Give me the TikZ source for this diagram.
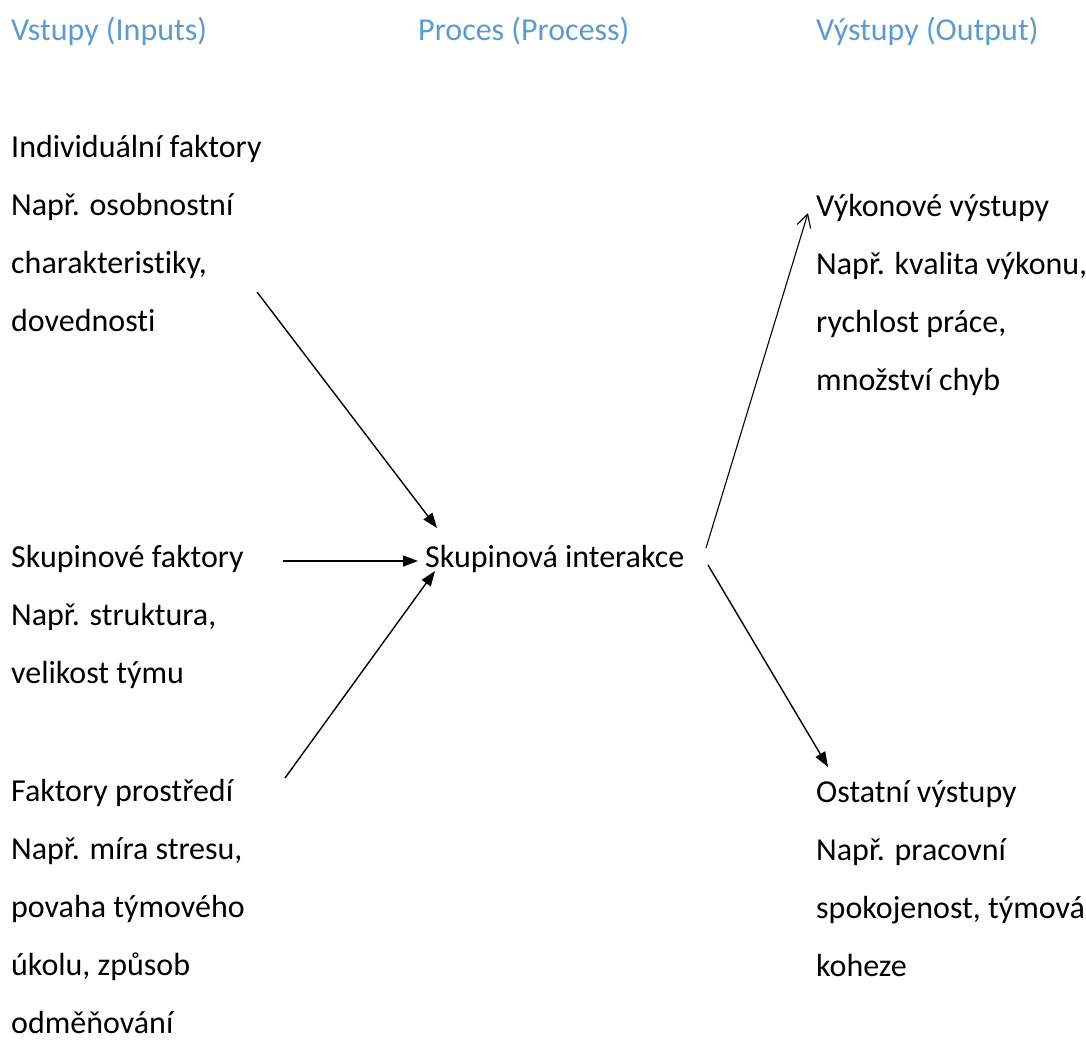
\documentclass[tikz,border=0pt]{standalone}
\usepackage{fontspec}
\setmainfont[Ligatures=NoCommon]{Carlito}
\usetikzlibrary{arrows.meta}
\definecolor{headblue}{HTML}{5B9BD5}

\begin{document}
\begin{tikzpicture}[x=1pt,y=-1pt,
  head/.style={anchor=base west,inner sep=0pt,text=headblue,font=\fontsize{32}{38}\selectfont},
  block/.style={anchor=base west,inner sep=0pt,align=left,font=\fontsize{32}{58}\selectfont},
  solid arrow/.style={-{Triangle[length=15pt,width=11pt]},line width=1.4pt},
  open arrow/.style={-{Straight Barb[length=13pt,width=14pt]},line width=1.1pt}]
\useasboundingbox (0,0) rectangle (1086,1039);
% headings (base = baseline)
\node[head] (hin)  at (11,40)  {Vstupy (Inputs)};
\node[head] (hpro) at (418,40) {Proces (Process)};
\node[head] (hout) at (816,40) {Výstupy (Output)};
% inputs (base = baseline of the last line)
\node[block] (indiv) at (11,331) {Individuální faktory\\Např. osobnostní\\charakteristiky,\\dovednosti};
\node[block] (skup)  at (11,683) {Skupinové faktory\\Např. struktura,\\velikost týmu};
\node[block] (env)   at (11,1033) {Faktory prostředí\\Např. míra stresu,\\povaha týmového\\úkolu, způsob\\odměňování};
% process
\node[block] (inter) at (425,567) {Skupinová interakce};
% outputs
\node[block] (perf)  at (816,390) {Výkonové výstupy\\Např. kvalita výkonu,\\rychlost práce,\\množství chyb};
\node[block] (other) at (816,976) {Ostatní výstupy\\Např. pracovní\\spokojenost, týmová\\koheze};
% arrow ends
\coordinate (a1) at (257,292);
\coordinate (b1) at (437,528);
\coordinate (a2) at (283,561);
\coordinate (b2) at (418,561);
\coordinate (a3) at (285,778);
\coordinate (b3) at (435,571);
\coordinate (a4) at (706,548);
\coordinate (b4) at (808,213);
\coordinate (a5) at (708,565);
\coordinate (b5) at (828,767);
\draw[solid arrow] (a1) -- (b1);
\draw[solid arrow] (a2) -- (b2);
\draw[solid arrow] (a3) -- (b3);
\draw[open arrow]  (a4) -- (b4);
\draw[solid arrow] (a5) -- (b5);
\end{tikzpicture}
\end{document}
